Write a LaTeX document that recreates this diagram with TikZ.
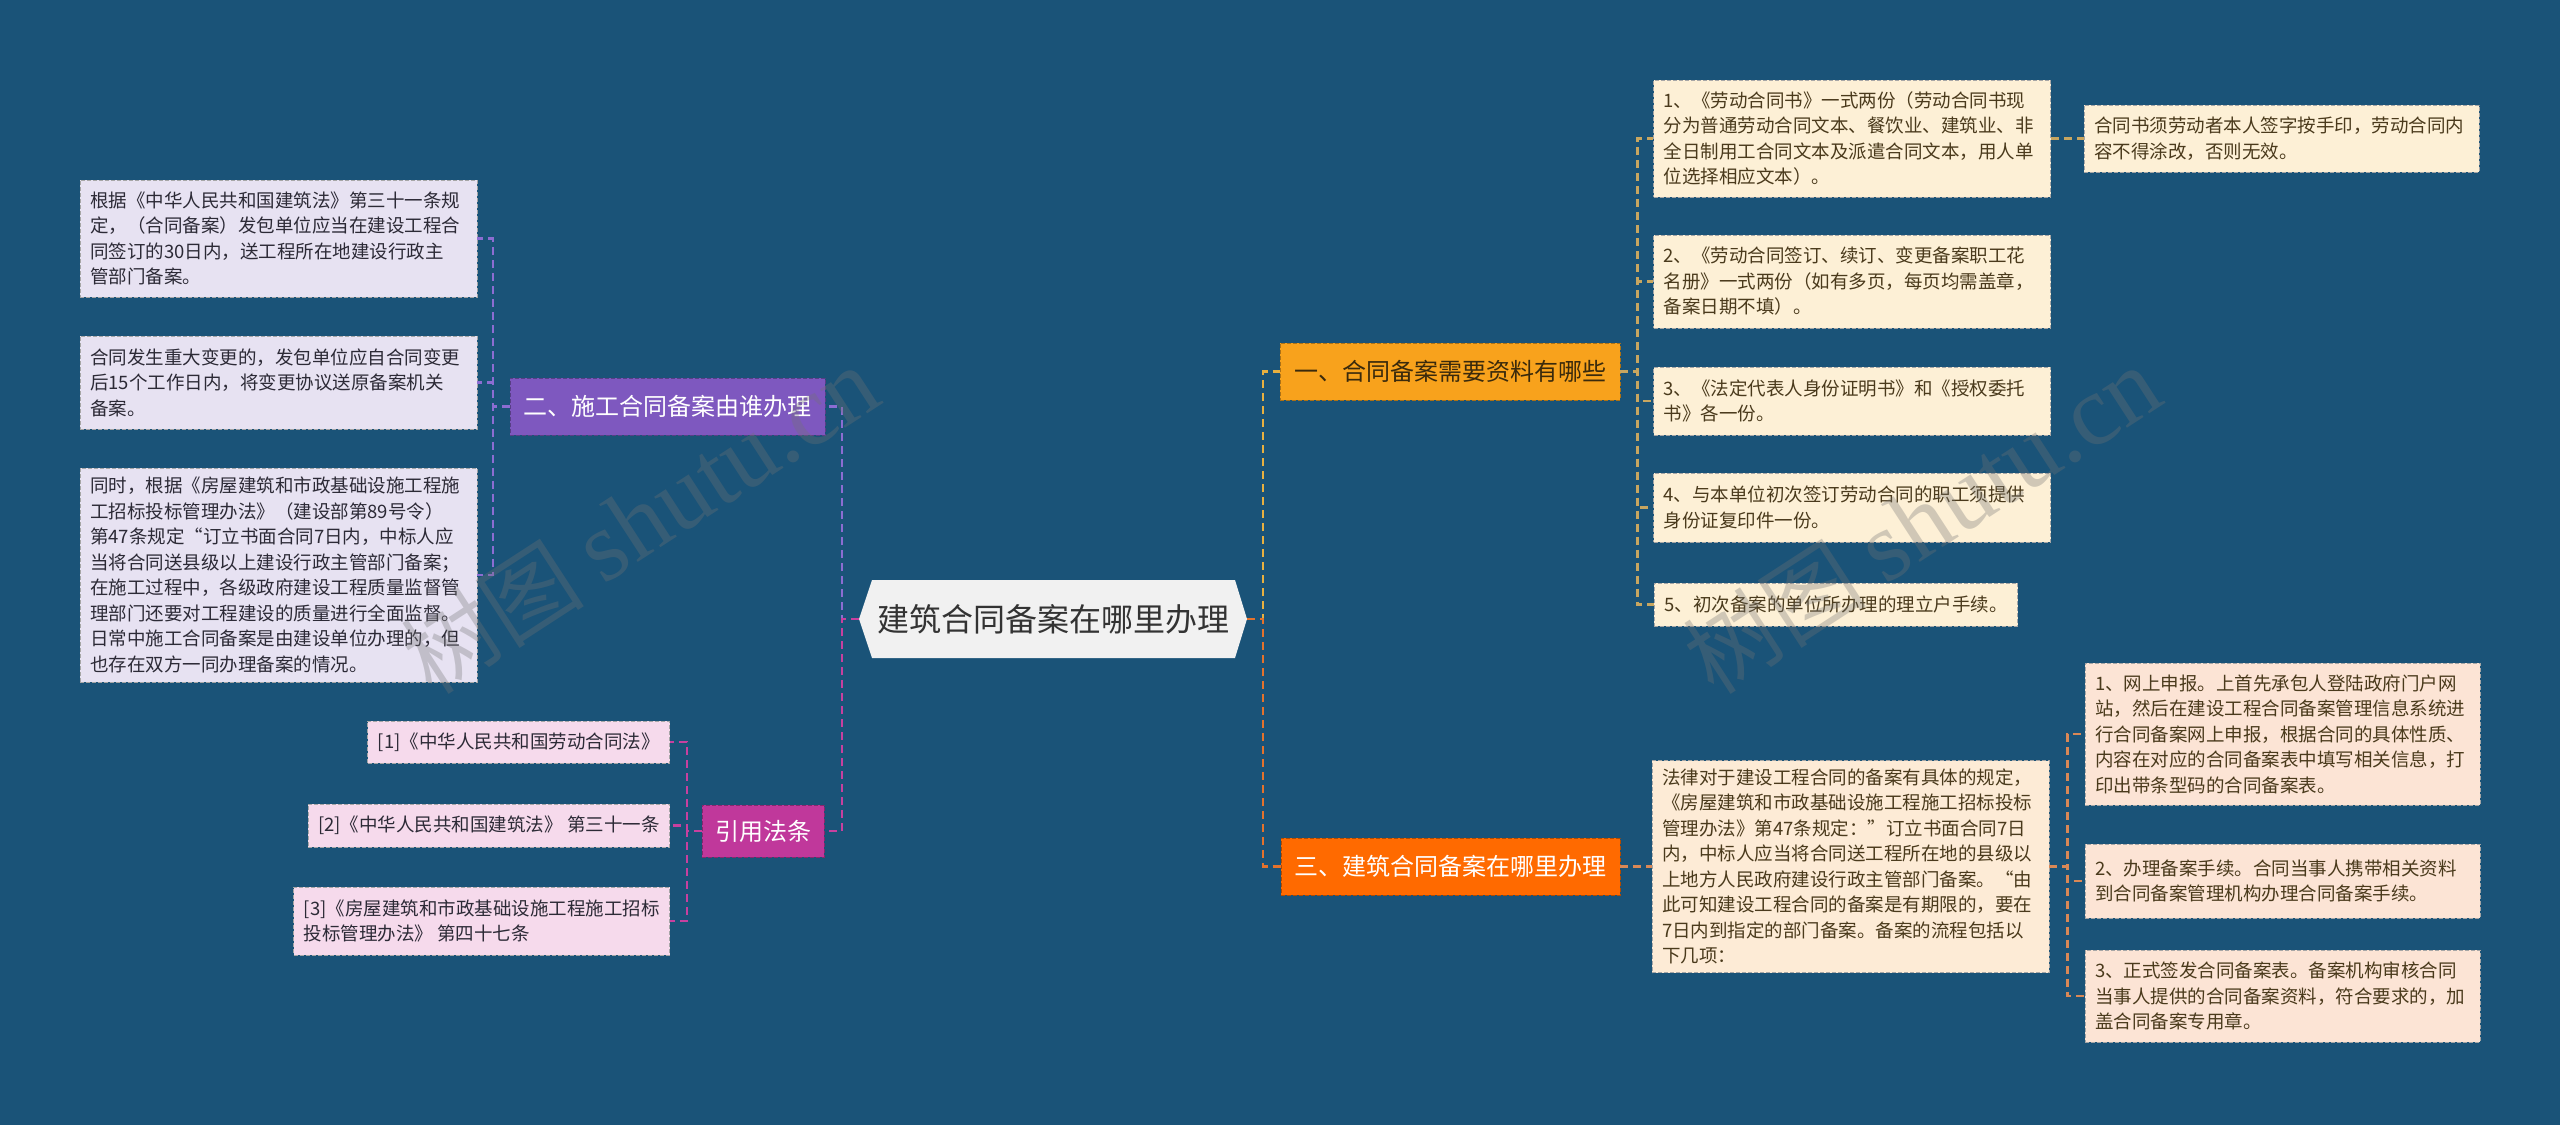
\documentclass[tikz,border=0pt]{standalone}
\usepackage{fontspec}
\setmainfont{Noto Sans CJK SC}
\newfontfamily\wmserif{Liberation Serif}
\usetikzlibrary{positioning}

\definecolor{bgblue}{HTML}{1A5378}
\definecolor{rootfill}{HTML}{F1F1F1}
\definecolor{roottext}{HTML}{333333}
\definecolor{yelfill}{HTML}{F8A21C}
\definecolor{yelline}{HTML}{E8B040}
\definecolor{yeltext}{HTML}{3A2A0C}
\definecolor{orgfill}{HTML}{FF6A00}
\definecolor{orgline}{HTML}{E4722C}
\definecolor{purfill}{HTML}{7E58BF}
\definecolor{purline}{HTML}{8C6DD2}
\definecolor{magfill}{HTML}{C0389B}
\definecolor{magline}{HTML}{C8409F}
\definecolor{lavfill}{HTML}{E7E2F2}
\definecolor{pinkfill}{HTML}{F6DAEC}
\definecolor{creamfill}{HTML}{FDF0D6}
\definecolor{creamline}{HTML}{C8A660}
\definecolor{peachfill}{HTML}{FCE4D5}
\definecolor{peachline}{HTML}{D98856}
\definecolor{darktext}{HTML}{2C2A36}
\definecolor{browntext}{HTML}{4A3A1C}

\newcommand\bodysize{\fontsize{18.5pt}{25.5pt}\selectfont}

\tikzset{
  box/.style={rectangle, draw=gray!70, line width=0.8pt, dash pattern=on 4pt off 2pt,
    inner xsep=10pt, inner ysep=4pt, font=\bodysize, align=left},
  widebox/.style={box, text width=377pt},
  lavbox/.style={widebox, fill=lavfill, text=darktext},
  pinkbox/.style={box, fill=pinkfill, text=darktext},
  creambox/.style={widebox, fill=creamfill, text=browntext},
  peachbox/.style={widebox, text width=375pt, fill=peachfill, text=browntext},
  branch/.style={rectangle, line width=0.8pt, dash pattern=on 4pt off 2pt,
    font=\fontsize{24pt}{28pt}\selectfont, minimum height=57pt, inner sep=0pt},
  con/.style={line width=2.2pt, dash pattern=on 8pt off 5pt},
  wm/.style={text=black!55, opacity=0.32, inner sep=0pt}
}

\begin{document}
\begin{tikzpicture}[x=1pt, y=-1pt]
\fill[bgblue] (0,0) rectangle (2560,1125);
\useasboundingbox (0,0) rectangle (2560,1125);

% centre
\fill[rootfill] (859,619) -- (872,580) -- (1235,580) -- (1247,619) -- (1235,658) -- (872,658) -- cycle;
\node[minimum width=388, minimum height=78, text=roottext, font=\fontsize{32pt}{36pt}\selectfont] (root) at (1053,619) {建筑合同备案在哪里办理};

% branches
\node[branch, fill=purfill, draw=purfill!70!black, text=white, minimum width=315] (two) at (667.5,406.5) {二、施工合同备案由谁办理};
\node[branch, fill=magfill, draw=magfill!70!black, text=white, minimum width=122, minimum height=52] (cite) at (763,831) {引用法条};
\node[branch, fill=yelfill, draw=yelfill!70!black, text=yeltext, minimum width=340] (one) at (1450,371.5) {一、合同备案需要资料有哪些};
\node[branch, fill=orgfill, draw=orgfill!70!black, text=white, minimum width=339] (three) at (1450.5,866.5) {三、建筑合同备案在哪里办理};

% left leaves
\node[lavbox, minimum height=117] (two1) at (278.5,238.5) {根据《中华人民共和国建筑法》第三十一条规\\定，（合同备案）发包单位应当在建设工程合\\同签订的30日内，送工程所在地建设行政主\\管部门备案。};
\node[lavbox, minimum height=93] (two2) at (278.5,382.5) {合同发生重大变更的，发包单位应自合同变更\\后15个工作日内，将变更协议送原备案机关\\备案。};
\node[lavbox, minimum height=214] (two3) at (278.5,575) {同时，根据《房屋建筑和市政基础设施工程施\\工招标投标管理办法》（建设部第89号令）\\第47条规定“订立书面合同7日内，中标人应\\当将合同送县级以上建设行政主管部门备案；\\在施工过程中，各级政府建设工程质量监督管\\理部门还要对工程建设的质量进行全面监督。\\日常中施工合同备案是由建设单位办理的，但\\也存在双方一同办理备案的情况。};

\node[pinkbox, minimum height=42, anchor=east] (cite1) at (670,742) {[1]《中华人民共和国劳动合同法》};
\node[pinkbox, minimum height=43, anchor=east] (cite2) at (670,825.5) {[2]《中华人民共和国建筑法》 第三十一条};
\node[pinkbox, minimum height=68, anchor=east] (cite3) at (670,921) {[3]《房屋建筑和市政基础设施工程施工招标\\投标管理办法》 第四十七条};

% right leaves
\node[creambox, minimum height=117] (one1) at (1852,138.5) {1、《劳动合同书》一式两份（劳动合同书现\\分为普通劳动合同文本、餐饮业、建筑业、非\\全日制用工合同文本及派遣合同文本，用人单\\位选择相应文本）。};
\node[creambox, text width=375pt, minimum height=67] (one1a) at (2281.5,138.5) {合同书须劳动者本人签字按手印，劳动合同内\\容不得涂改，否则无效。};
\node[creambox, minimum height=93] (one2) at (1852,281.5) {2、《劳动合同签订、续订、变更备案职工花\\名册》一式两份（如有多页，每页均需盖章，\\备案日期不填）。};
\node[creambox, minimum height=68] (one3) at (1852,401) {3、《法定代表人身份证明书》和《授权委托\\书》各一份。};
\node[creambox, minimum height=69] (one4) at (1852,507.5) {4、与本单位初次签订劳动合同的职工须提供\\身份证复印件一份。};
\node[box, fill=creamfill, text=browntext, minimum height=43, anchor=west] (one5) at (1654,604.5) {5、初次备案的单位所办理的理立户手续。};

\node[creambox, fill=peachfill!45!creamfill, minimum height=212] (three1) at (1850.5,866.5) {法律对于建设工程合同的备案有具体的规定，\\《房屋建筑和市政基础设施工程施工招标投标\\管理办法》第47条规定：”订立书面合同7日\\内，中标人应当将合同送工程所在地的县级以\\上地方人民政府建设行政主管部门备案。“由\\此可知建设工程合同的备案是有期限的，要在\\7日内到指定的部门备案。备案的流程包括以\\下几项：};
\node[peachbox, minimum height=142] (step1) at (2282.5,734) {1、网上申报。上首先承包人登陆政府门户网\\站，然后在建设工程合同备案管理信息系统进\\行合同备案网上申报，根据合同的具体性质、\\内容在对应的合同备案表中填写相关信息，打\\印出带条型码的合同备案表。};
\node[peachbox, minimum height=74] (step2) at (2282.5,881) {2、办理备案手续。合同当事人携带相关资料\\到合同备案管理机构办理合同备案手续。};
\node[peachbox, minimum height=92] (step3) at (2282.5,996) {3、正式签发合同备案表。备案机构审核合同\\当事人提供的合同备案资料，符合要求的，加\\盖合同备案专用章。};

% connectors
\draw[con, purline] (root.west) -- ++(-17,0) |- (two.east);
\draw[con, magline] (root.west) -- ++(-17,0) |- (cite.east);
\draw[con, yelline] (root.east) -- ++(16,0) |- (one.west);
\draw[con, orgline] (root.east) -- ++(16,0) |- (three.west);

\foreach \leaf in {two1,two2,two3}
  \draw[con, purline] (two.west) -- ++(-17,0) |- (\leaf.east);
\foreach \leaf in {cite1,cite2,cite3}
  \draw[con, magline] (cite.west) -- ++(-15,0) |- (\leaf.east);
\foreach \leaf in {one1,one2,one3,one4,one5}
  \draw[con, creamline] (one.east) -- ++(17,0) |- (\leaf.west);
\draw[con, creamline] (one1.east) -- (one1a.west);
\draw[con, peachline] (three.east) -- (three1.west);
\foreach \leaf in {step1,step2,step3}
  \draw[con, peachline] (three1.east) -- ++(18,0) |- (\leaf.west);

% watermark
\node[wm, rotate=33] (wmleft) at (640,520) {\fontsize{92pt}{92pt}\selectfont 树图 \wmserif\fontsize{100pt}{100pt}\selectfont shutu.cn};
\node[wm, rotate=33] (wmright) at (1922,520) {\fontsize{92pt}{92pt}\selectfont 树图 \wmserif\fontsize{100pt}{100pt}\selectfont shutu.cn};
\end{tikzpicture}
\end{document}
